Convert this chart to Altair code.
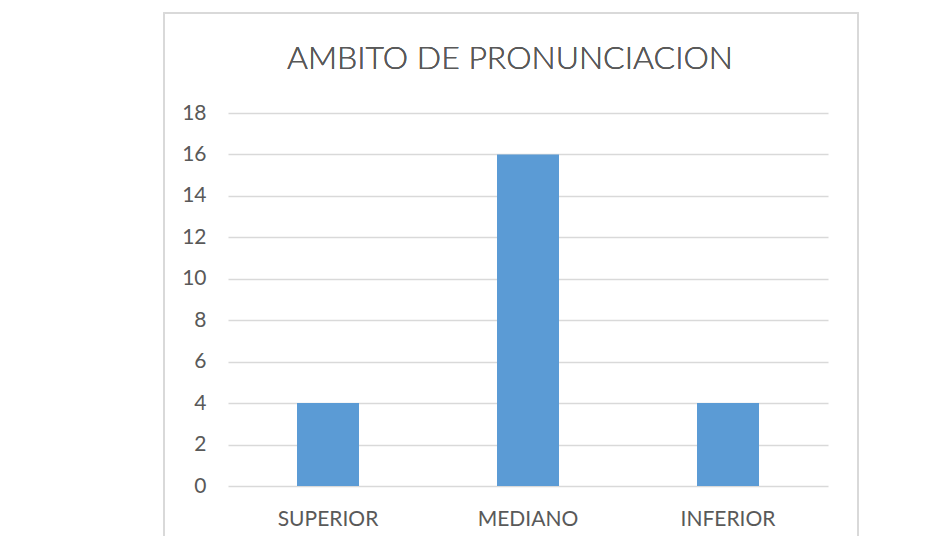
import altair as alt
import pandas as pd

categories = ["SUPERIOR", "MEDIANO", "INFERIOR"]
values = [4, 16, 4]
y_ticks = [0, 2, 4, 6, 8, 10, 12, 14, 16, 18]
title_text = "AMBITO DE PRONUNCIACION"

df = pd.DataFrame({"cat": categories, "val": values})

FONT = "Lato"
GRAY = "#595959"
GRID = "#D9D9D9"

frame = alt.Chart(df).mark_rect(
    fillOpacity=0, stroke=GRID, strokeWidth=1.5
).encode(
    x=alt.value(-64), x2=alt.value(630), y=alt.value(-100), y2=alt.value(450)
)

bars = alt.Chart(df).mark_bar(color="#5B9BD5", size=62).encode(
    x=alt.X("cat:N", sort=categories, title=None,
            scale=alt.Scale(paddingInner=0, paddingOuter=0),
            axis=alt.Axis(labelAngle=0, labelFont=FONT, labelFontSize=21,
                          labelColor=GRAY, labelPadding=22, ticks=False,
                          domain=False, grid=False)),
    y=alt.Y("val:Q", title=None,
            scale=alt.Scale(domain=[0, 18], nice=False),
            axis=alt.Axis(values=y_ticks, labelFont=FONT, labelFontSize=21,
                          labelColor=GRAY, labelPadding=22, ticks=False,
                          domain=False, grid=True, gridColor=GRID,
                          gridWidth=1.5)),
)

title = alt.Chart(df).mark_text(
    text=title_text, font=FONT, fontSize=32, fontWeight=300, color=GRAY,
    baseline="middle", align="center"
).encode(x=alt.value(282), y=alt.value(-54))

chart = alt.layer(frame, bars, title).properties(
    width=600, height=373,
    background="white",
    autosize=alt.AutoSizeParams(type="none"),
    padding={"left": 220, "top": 105, "right": 89, "bottom": 50},
).configure_view(strokeWidth=0, stroke="transparent")

chart.save("out.html", embed_options={"renderer": "svg", "actions": False})
